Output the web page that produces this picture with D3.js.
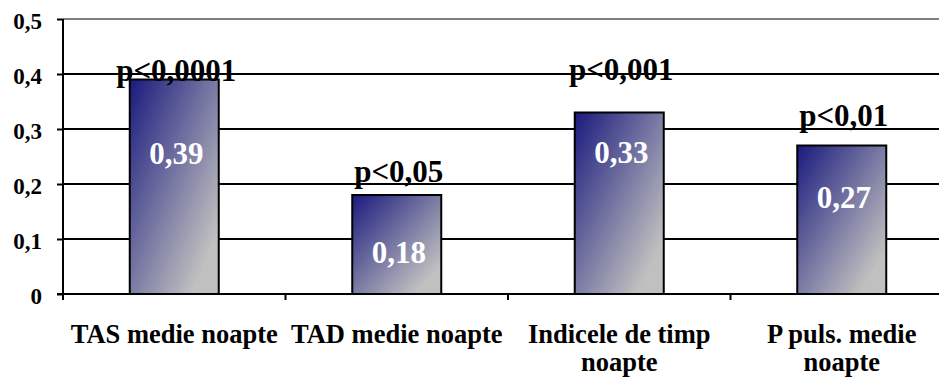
<!DOCTYPE html>
<html>
<head>
  <meta charset="utf-8">
  <title>d3 chart</title>
  <script src="https://cdnjs.cloudflare.com/ajax/libs/d3/7.8.5/d3.min.js"></script>
</head>
<style>
  body { margin: 0; background: #fff; }
  svg { display: block; }
</style>
<body>
<svg id="svg" width="939" height="381"></svg>
<script type="text/javascript">
const categories = ['TAS medie noapte', 'TAD medie noapte', 'Indicele de timp noapte', 'P puls. medie noapte'];
const values = [0.39, 0.18, 0.33, 0.27];
const pLabels = ['p<0,0001', 'p<0,05', 'p<0,001', 'p<0,01'];
const yTicks = [0, 0.1, 0.2, 0.3, 0.4, 0.5];

// the p-value and value boxes sit a bit differently above / inside each bar (px)
const pLabelDy = [1, -13, -33, -20];
const valueLabelDy = [84, 68, 50, 62];

const plotLeft = 63, plotRight = 953, plotTop = 19, plotBottom = 294;
const FONT = '"Liberation Serif"';

const locale = d3.formatLocale({decimal: ',', thousands: '.', grouping: [3], currency: ['', '']});
const fmt = locale.format('~g');

const svg = d3.select('svg');

const x = d3.scaleBand()
  .domain(categories)
  .range([plotLeft, plotRight])
  .paddingInner(0.6)
  .paddingOuter(0.3);

const y = d3.scaleLinear()
  .domain([0, 0.5])
  .range([plotBottom, plotTop]);

const grad = svg.append('defs').append('linearGradient')
  .attr('id', 'barGrad')
  .attr('x1', 0).attr('y1', 0).attr('x2', 1).attr('y2', 1);
grad.append('stop').attr('offset', 0).attr('stop-color', '#1a1a7e');
grad.append('stop').attr('offset', 0.85).attr('stop-color', '#c0c0c0');

// grid lines
svg.append('g')
  .selectAll('line')
  .data(yTicks.filter(d => d > 0))
  .enter()
  .append('line')
  .attr('x1', plotLeft)
  .attr('x2', plotRight)
  .attr('y1', d => y(d))
  .attr('y2', d => y(d))
  .style('stroke', d => d === 0.5 ? '#808080' : '#000')
  .style('stroke-width', 2);

// bars
svg.append('g')
  .selectAll('rect')
  .data(values)
  .enter()
  .append('rect')
  .attr('x', (d, i) => x(categories[i]))
  .attr('y', d => y(d))
  .attr('width', x.bandwidth())
  .attr('height', d => y(0) - y(d))
  .style('fill', 'url(#barGrad)')
  .style('stroke', '#000')
  .style('stroke-width', 2);

// y axis
const yAxis = svg.append('g')
  .attr('transform', `translate(${plotLeft},0)`)
  .call(d3.axisLeft(y).tickValues(yTicks).tickSize(6).tickPadding(15).tickFormat(fmt));
yAxis.select('.domain').remove();
yAxis.selectAll('.tick line').style('stroke', '#000').style('stroke-width', 2);
yAxis.selectAll('.tick text')
  .attr('dy', '0.43em')
  .style('font-size', '23px')
  .style('font-family', FONT)
  .style('font-weight', 'bold')
  .style('fill', '#000');
yAxis.append('line')
  .attr('x1', 0).attr('x2', 0)
  .attr('y1', plotTop).attr('y2', plotBottom)
  .style('stroke', '#000').style('stroke-width', 2);

// x axis with ticks between the categories
const bounds = d3.range(categories.length + 1).map(i => plotLeft + i * x.step());
svg.append('line')
  .attr('x1', plotLeft - 6).attr('x2', plotRight)
  .attr('y1', plotBottom).attr('y2', plotBottom)
  .style('stroke', '#000').style('stroke-width', 2);
svg.append('g')
  .selectAll('line')
  .data(bounds)
  .enter()
  .append('line')
  .attr('x1', d => d).attr('x2', d => d)
  .attr('y1', plotBottom).attr('y2', plotBottom + 6)
  .style('stroke', '#000').style('stroke-width', 2);

// category labels, wrapped to the band width
const catText = svg.append('g')
  .selectAll('text')
  .data(categories)
  .enter()
  .append('text')
  .attr('x', d => x(d) + x.bandwidth() / 2)
  .attr('y', 343)
  .attr('text-anchor', 'middle')
  .style('font-family', FONT)
  .style('font-weight', 'bold')
  .style('font-size', '26.5px')
  .style('fill', '#000');

catText.each(function(d) {
  const t = d3.select(this);
  const words = d.split(' ');
  let line = [];
  let tspan = t.append('tspan').attr('x', t.attr('x')).attr('dy', 0);
  words.forEach(w => {
    line.push(w);
    tspan.text(line.join(' '));
    if (tspan.node().getComputedTextLength() > x.step() - 4 && line.length > 1) {
      line.pop();
      tspan.text(line.join(' '));
      line = [w];
      tspan = t.append('tspan').attr('x', t.attr('x')).attr('dy', 28).text(w);
    }
  });
});

// p-value labels above bars
svg.append('g')
  .selectAll('text')
  .data(pLabels)
  .enter()
  .append('text')
  .attr('x', (d, i) => x(categories[i]) + x.bandwidth() / 2 + 2)
  .attr('y', (d, i) => y(values[i]) + pLabelDy[i])
  .attr('text-anchor', 'middle')
  .style('font-family', FONT)
  .style('font-weight', 'bold')
  .style('font-size', '31px')
  .style('fill', '#000')
  .text(d => d);

// value labels inside bars
svg.append('g')
  .selectAll('text')
  .data(values)
  .enter()
  .append('text')
  .attr('x', (d, i) => x(categories[i]) + x.bandwidth() / 2 + 2)
  .attr('y', (d, i) => y(d) + valueLabelDy[i])
  .attr('text-anchor', 'middle')
  .style('font-family', FONT)
  .style('font-weight', 'bold')
  .style('font-size', '31px')
  .style('fill', '#fff')
  .text(d => locale.format('.2f')(d));
</script>
</body>
</html>
